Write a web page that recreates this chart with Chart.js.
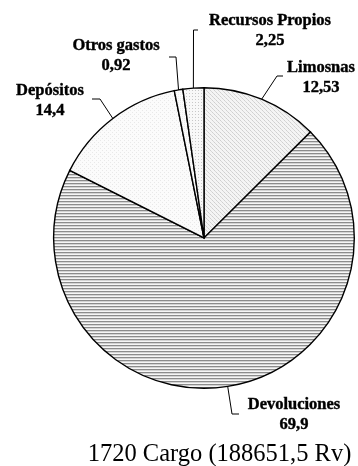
<!DOCTYPE html>
<html>
<head>
<meta charset="utf-8">
<script src="https://cdn.jsdelivr.net/npm/chart.js@4"></script>
<style>
  html, body { margin: 0; padding: 0; background: #fff; }
  canvas { display: block; }
</style>
</head>
<body>
<canvas id="myChart" width="358" height="466"></canvas>
<script>
const labels = ['Limosnas', 'Devoluciones', 'Depósitos', 'Otros gastos', 'Recursos Propios'];
const values = [12.53, 69.9, 14.4, 0.92, 2.25];
const valueTexts = ['12,53', '69,9', '14,4', '0,92', '2,25'];
const title = '1720 Cargo (188651,5 Rv)';

// where each label sits and how its leader line bends
const labelLayout = [
  { x: 321, y: 72,  elbow: [277, 76],  end: [283, 76] },
  { x: 294, y: 409, elbow: [232, 414], end: [239, 414] },
  { x: 50,  y: 95,  elbow: [100, 99],  end: [92, 99] },
  { x: 116, y: 50,  elbow: [176, 57],  end: [169, 57] },
  { x: 270, y: 25,  elbow: [193.5, 30], end: [198, 30] }
];

// small tiles used as fills, like the old monochrome printer patterns
function makePattern(w, h, bg, dots) {
  const c = document.createElement('canvas');
  c.width = w; c.height = h;
  const g = c.getContext('2d');
  g.fillStyle = bg;
  g.fillRect(0, 0, w, h);
  dots.forEach(d => {
    g.fillStyle = d[2];
    g.fillRect(d[0], d[1], 1, 1);
  });
  return g.createPattern(c, 'repeat');
}

const fills = [
  makePattern(4, 4, '#f4f4f4', [[0, 0, '#cfcfcf'], [1, 1, '#d8d8d8'], [2, 2, '#cfcfcf'], [3, 3, '#d8d8d8']]),
  makePattern(1, 3, '#f6f6f6', [[0, 0, '#8c8c8c'], [0, 1, '#d4d4d4']]),
  makePattern(4, 4, '#fbfbfb', [[0, 0, '#e8e8e8'], [2, 2, '#e8e8e8']]),
  makePattern(2, 2, '#fcfcfc', [[0, 0, '#eeeeee']]),
  makePattern(3, 3, '#f8f8f8', [[0, 0, '#c8c8c8']])
];

const labelPlugin = {
  id: 'labelPlugin',
  afterDraw(chart) {
    const ctx = chart.ctx;
    const arcs = chart.getDatasetMeta(0).data;
    ctx.save();
    arcs.forEach((arc, i) => {
      const p = arc.getProps(['x', 'y', 'startAngle', 'endAngle', 'outerRadius'], true);
      const mid = (p.startAngle + p.endAngle) / 2;
      const sx = p.x + Math.cos(mid) * p.outerRadius;
      const sy = p.y + Math.sin(mid) * p.outerRadius;
      const lay = labelLayout[i];
      ctx.strokeStyle = '#000';
      ctx.lineWidth = 1;
      ctx.beginPath();
      ctx.moveTo(sx, sy);
      ctx.lineTo(lay.elbow[0], lay.elbow[1]);
      ctx.lineTo(lay.end[0], lay.end[1]);
      ctx.stroke();

      // bold serif labels, a touch of stroke to thicken them
      ctx.fillStyle = '#000';
      ctx.font = 'bold 16.5px "Liberation Serif", "Times New Roman", serif';
      ctx.textAlign = 'center';
      ctx.textBaseline = 'alphabetic';
      ctx.lineWidth = 0.4;
      ctx.fillText(labels[i], lay.x, lay.y);
      ctx.strokeText(labels[i], lay.x, lay.y);
      ctx.fillText(valueTexts[i], lay.x, lay.y + 20);
      ctx.strokeText(valueTexts[i], lay.x, lay.y + 20);
    });

    ctx.font = '24.5px "Liberation Serif", "Times New Roman", serif';
    ctx.textAlign = 'center';
    ctx.fillText(title, 219.5, 461);
    ctx.restore();
  }
};

new Chart(document.getElementById('myChart').getContext('2d'), {
  type: 'pie',
  data: {
    labels: labels,
    datasets: [{
      data: values,
      backgroundColor: fills,
      borderColor: '#000',
      borderWidth: 1.4,
      borderJoinStyle: 'miter'
    }]
  },
  options: {
    responsive: false,
    devicePixelRatio: 1,
    animation: false,
    layout: {
      padding: { left: 53, right: 3, top: 87, bottom: 77 }
    },
    plugins: {
      legend: { display: false },
      tooltip: { enabled: false }
    }
  },
  plugins: [labelPlugin]
});
</script>
</body>
</html>
